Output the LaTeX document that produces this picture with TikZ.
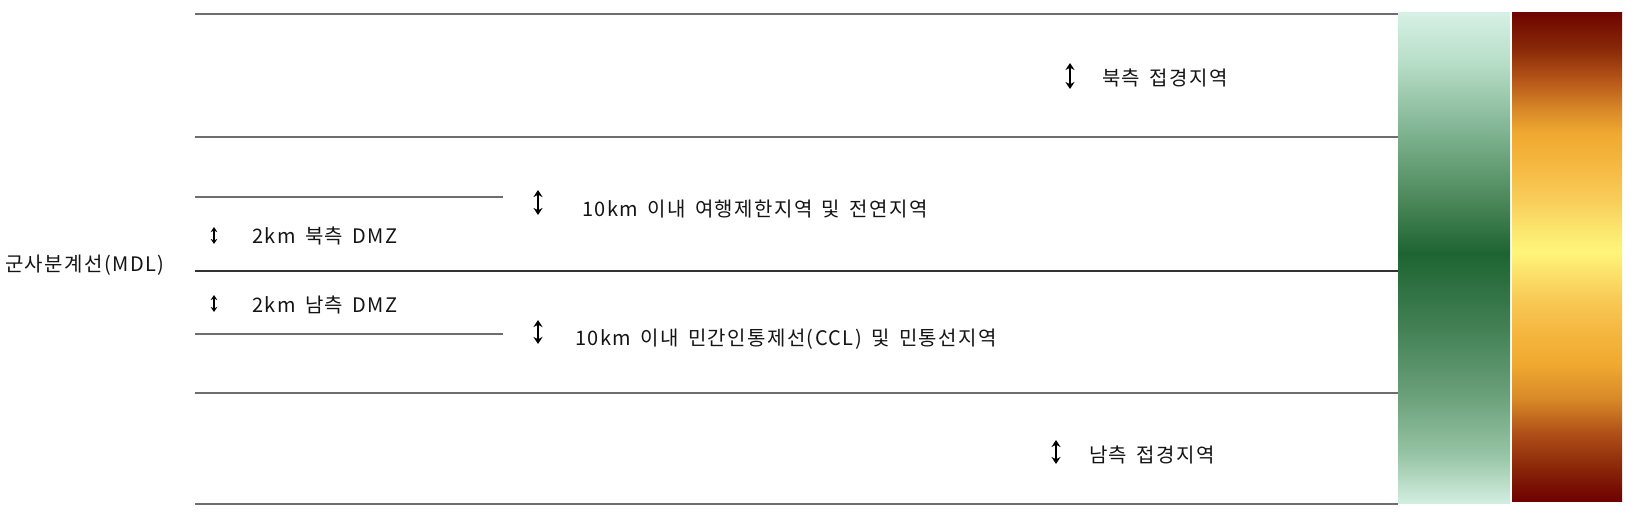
\documentclass[tikz,border=0pt]{standalone}
\usepackage{fontspec}
\setmainfont{Noto Sans CJK KR}[LetterSpace=7,WordSpace=1.6]
\usetikzlibrary{arrows.meta}
\definecolor{txt}{HTML}{141414}
\definecolor{lgray}{HTML}{6E6E6E}
\definecolor{dgray}{HTML}{333333}
% green bar: position 75bp = top, 25bp = bottom
\pgfdeclareverticalshading{greenbar}{100bp}{%
  color(0bp)=({rgb,255:red,210;green,238;blue,224});
  color(25bp)=({rgb,255:red,210;green,238;blue,224});
  color(30bp)=({rgb,255:red,150;green,196;blue,164});
  color(36bp)=({rgb,255:red,106;green,160;blue,122});
  color(43bp)=({rgb,255:red,66;green,128;blue,84});
  color(50.5bp)=({rgb,255:red,30;green,100;blue,50});
  color(56bp)=({rgb,255:red,76;green,136;blue,90});
  color(63bp)=({rgb,255:red,128;green,180;blue,146});
  color(70bp)=({rgb,255:red,184;green,222;blue,200});
  color(75bp)=({rgb,255:red,214;green,240;blue,228});
  color(100bp)=({rgb,255:red,214;green,240;blue,228})}
\pgfdeclareverticalshading{orangebar}{100bp}{%
  color(0bp)=({rgb,255:red,110;green,0;blue,0});
  color(25bp)=({rgb,255:red,110;green,0;blue,0});
  color(28.5bp)=({rgb,255:red,138;green,40;blue,8});
  color(32bp)=({rgb,255:red,176;green,80;blue,24});
  color(35.5bp)=({rgb,255:red,216;green,138;blue,40});
  color(39bp)=({rgb,255:red,240;green,168;blue,48});
  color(42.5bp)=({rgb,255:red,245;green,184;blue,64});
  color(46bp)=({rgb,255:red,248;green,204;blue,88});
  color(50.5bp)=({rgb,255:red,255;green,245;blue,122});
  color(52.5bp)=({rgb,255:red,252;green,232;blue,112});
  color(56bp)=({rgb,255:red,248;green,204;blue,88});
  color(59.5bp)=({rgb,255:red,245;green,184;blue,64});
  color(62.75bp)=({rgb,255:red,240;green,168;blue,48});
  color(65bp)=({rgb,255:red,216;green,138;blue,40});
  color(68bp)=({rgb,255:red,184;green,88;blue,26});
  color(71.25bp)=({rgb,255:red,138;green,42;blue,8});
  color(75bp)=({rgb,255:red,110;green,5;blue,0});
  color(100bp)=({rgb,255:red,110;green,5;blue,0})}
\tikzset{
  zoneline/.style={draw=lgray, line width=1.4pt},
  mdlline/.style={draw=dgray, line width=2.6pt},
  dimarrow/.style={draw=black, line width=2pt, {Stealth[length=7pt,width=9pt]}-{Stealth[length=7pt,width=9pt]}},
  smallarrow/.style={draw=black, line width=1.5pt, {Stealth[length=5pt,width=6.5pt]}-{Stealth[length=5pt,width=6.5pt]}},
  lbl/.style={anchor=base west, inner sep=0pt, text=txt, font=\fontsize{20pt}{23pt}\selectfont}
}
\begin{document}
\begin{tikzpicture}[x=1pt,y=-1pt]
\useasboundingbox (0,0) rectangle (1631,521);
% bars
\shade[shading=greenbar] (1398,13) rectangle (1510,503);
\shade[shading=orangebar] (1512,13) rectangle (1622,501);
% lines
\draw[zoneline] (195,14) -- (1398,14);
\draw[zoneline] (195,137) -- (1398,137);
\draw[zoneline] (195,197) -- (503,197);
\draw[mdlline] (195,271) -- (1398,271);
\draw[zoneline] (195,334) -- (503,334);
\draw[zoneline] (195,393) -- (1398,393);
\draw[zoneline] (195,504) -- (1398,504);
% arrows
\draw[dimarrow] (1070,63) -- (1070,89);
\draw[dimarrow] (1056,440) -- (1056,464);
\draw[dimarrow] (538,190) -- (538,215);
\draw[dimarrow] (538,320) -- (538,344);
\draw[smallarrow] (214,227) -- (214,244);
\draw[smallarrow] (214,295) -- (214,312);
% labels
\node[lbl] (north) at (1102,86) {북측 접경지역};
\node[lbl] (south) at (1089,462) {남측 접경지역};
\node[lbl] (tenN) at (582,217) {10km 이내 여행제한지역 및 전연지역};
\node[lbl] (tenS) at (575,345) {10km 이내 민간인통제선(CCL) 및 민통선지역};
\node[lbl] (mdl) at (5,272) {군사분계선(MDL)};
\node[lbl] (dmzN) at (252,244) {2km 북측 DMZ};
\node[lbl] (dmzS) at (252,313) {2km 남측 DMZ};
\end{tikzpicture}
\end{document}
